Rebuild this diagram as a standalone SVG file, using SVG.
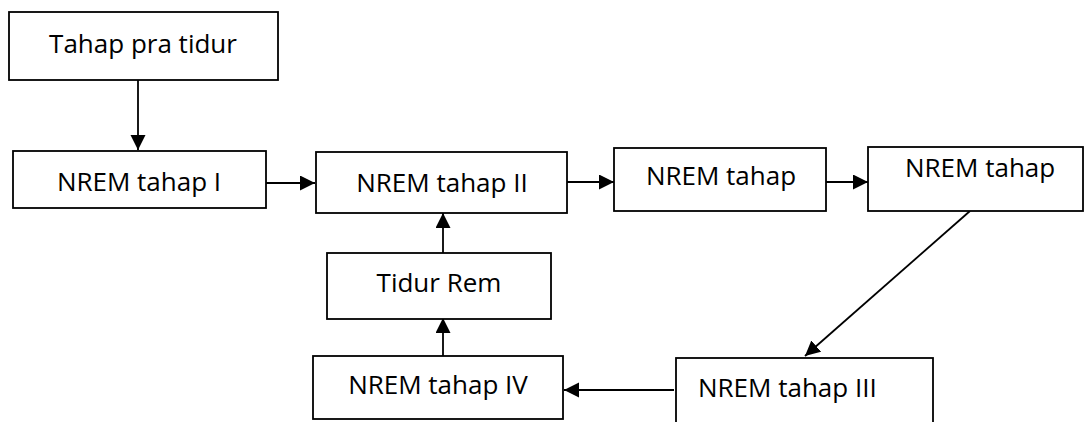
<svg xmlns="http://www.w3.org/2000/svg" width="1084" height="422" viewBox="0 0 1084 422">
<defs>
<style>
.box{fill:#ffffff;stroke:#000000;stroke-width:1.8}
.lbl{font-family:"Open Sans","Liberation Sans",sans-serif;font-size:26px;fill:#000000}
.mid{text-anchor:middle}
.edge{fill:none;stroke:#000000;stroke-width:1.8}
</style>
<marker id="ah" markerUnits="userSpaceOnUse" markerWidth="16" markerHeight="16" refX="15" refY="7.5" orient="auto">
<path d="M0,0 L15,7.5 L0,15 z" fill="#000000"/>
</marker>
</defs>
<rect width="1084" height="422" fill="#ffffff"/>
<g id="connectors">
<line class="edge" x1="138" y1="80" x2="138" y2="150" marker-end="url(#ah)"/>
<line class="edge" x1="266" y1="183" x2="315" y2="183" marker-end="url(#ah)"/>
<line class="edge" x1="567" y1="182" x2="614" y2="182" marker-end="url(#ah)"/>
<line class="edge" x1="823" y1="182" x2="868" y2="182" marker-end="url(#ah)"/>
<line class="edge" x1="970" y1="211" x2="805" y2="356" marker-end="url(#ah)"/>
<line class="edge" x1="674" y1="390" x2="564" y2="390" marker-end="url(#ah)"/>
<line class="edge" x1="443" y1="356" x2="443" y2="318" marker-end="url(#ah)"/>
<line class="edge" x1="443" y1="253" x2="443" y2="213" marker-end="url(#ah)"/>
</g>
<g id="n-pra">
<rect class="box" x="9" y="12" width="269" height="68"/>
<text class="lbl mid" x="143" y="53">Tahap pra tidur</text>
</g>
<g id="n-nrem1">
<rect class="box" x="13" y="151" width="253" height="57"/>
<text class="lbl mid" x="139" y="191">NREM tahap I</text>
</g>
<g id="n-nrem2">
<rect class="box" x="316" y="152" width="251" height="61"/>
<text class="lbl mid" x="442" y="192">NREM tahap II</text>
</g>
<g id="n-nrem-a">
<rect class="box" x="614" y="148" width="212" height="63"/>
<text class="lbl mid" x="721" y="185">NREM tahap</text>
</g>
<g id="n-nrem-b">
<rect class="box" x="868" y="147" width="215" height="64"/>
<text class="lbl" x="905" y="177">NREM tahap</text>
</g>
<g id="n-nrem3">
<rect class="box" x="676" y="358" width="257" height="80"/>
<text class="lbl" x="698" y="397">NREM tahap III</text>
</g>
<g id="n-nrem4">
<rect class="box" x="313" y="356" width="250" height="63"/>
<text class="lbl mid" x="438" y="394">NREM tahap IV</text>
</g>
<g id="n-rem">
<rect class="box" x="327" y="253" width="224" height="66"/>
<text class="lbl mid" x="439" y="292">Tidur Rem</text>
</g>
</svg>
